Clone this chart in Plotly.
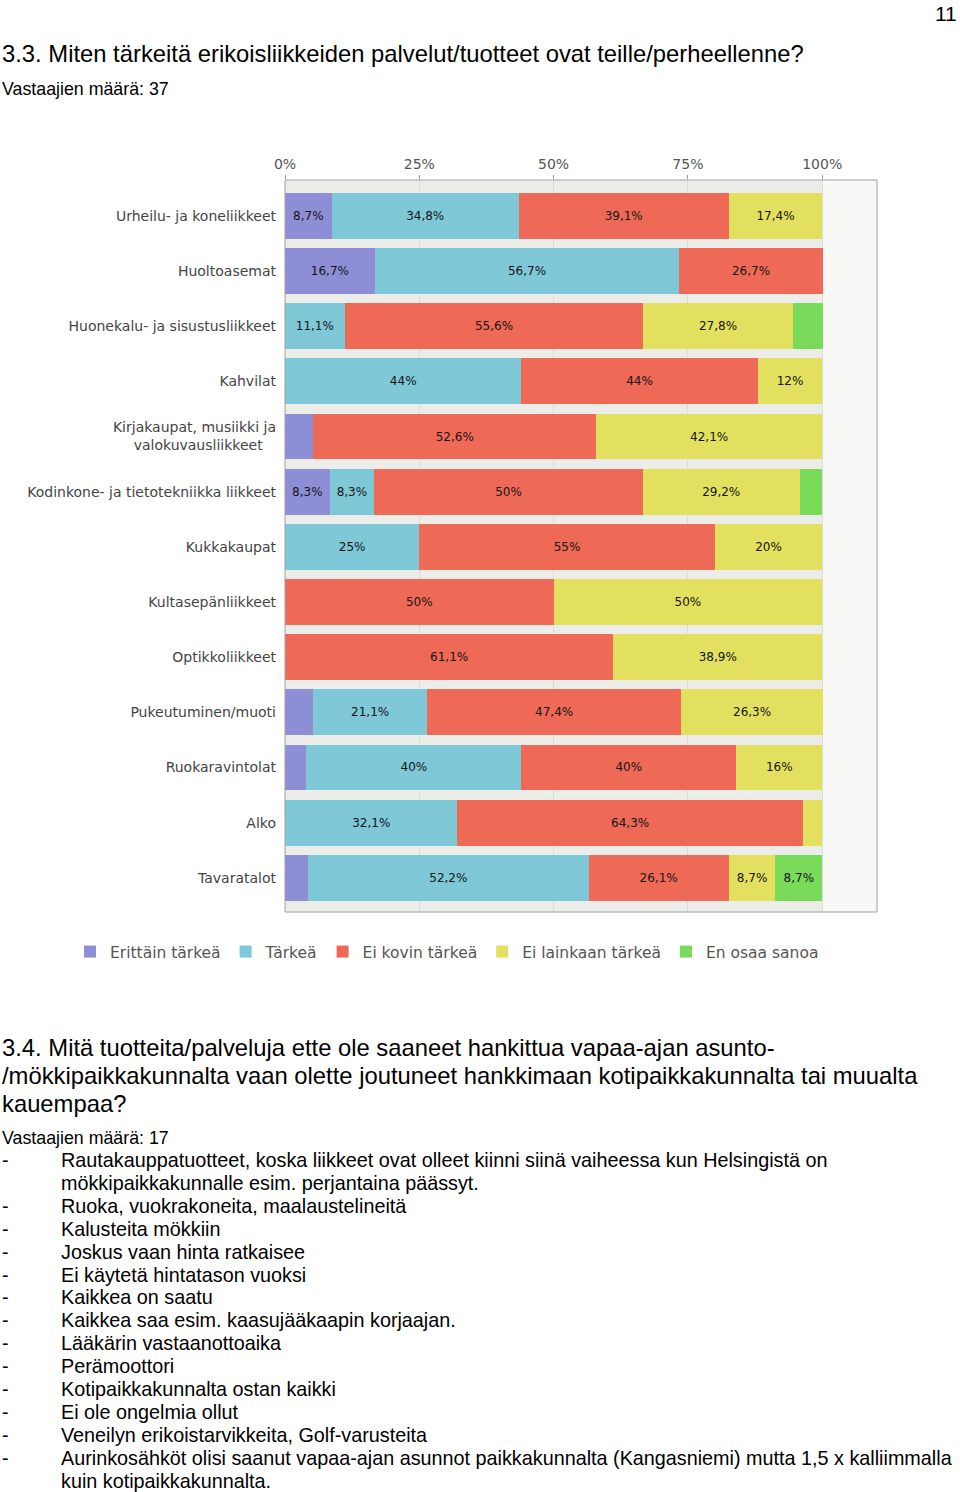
import plotly.graph_objects as go

# ---------------- data ----------------
categories = [
    "Urheilu- ja koneliikkeet",
    "Huoltoasemat",
    "Huonekalu- ja sisustusliikkeet",
    "Kahvilat",
    "Kirjakaupat, musiikki ja<br>valokuvausliikkeet\u00a0\u00a0\u00a0",
    "Kodinkone- ja tietotekniikka liikkeet",
    "Kukkakaupat",
    "Kultasepänliikkeet",
    "Optikkoliikkeet",
    "Pukeutuminen/muoti",
    "Ruokaravintolat",
    "Alko",
    "Tavaratalot",
]
series_names = ["Erittäin tärkeä", "Tärkeä", "Ei kovin tärkeä", "Ei lainkaan tärkeä", "En osaa sanoa"]
erittain = [8.7, 16.7, 0, 0, 5.3, 8.3, 0, 0, 0, 5.3, 4.0, 0, 4.3]
tarkea = [34.8, 56.7, 11.1, 44, 0, 8.3, 25, 0, 0, 21.1, 40, 32.1, 52.2]
ei_kovin = [39.1, 26.7, 55.6, 44, 52.6, 50, 55, 50, 61.1, 47.4, 40, 64.3, 26.1]
ei_lainkaan = [17.4, 0, 27.8, 12, 42.1, 29.2, 20, 50, 38.9, 26.3, 16, 3.6, 8.7]
en_osaa = [0, 0, 5.6, 0, 0, 4.2, 0, 0, 0, 0, 0, 0, 8.7]
x_ticks = [0, 25, 50, 75, 100]
x_tick_labels = ["0%", "25%", "50%", "75%", "100%"]

series_values = [erittain, tarkea, ei_kovin, ei_lainkaan, en_osaa]
colors = ["#8e8ed6", "#7fc8d8", "#ee6a56", "#e2e05e", "#7ada5a"]

# page text
title1 = "3.3. Miten tärkeitä erikoisliikkeiden palvelut/tuotteet ovat teille/perheellenne?"
count1 = "Vastaajien määrä: 37"
page_no = "11"
title2_lines = [
    "3.4. Mitä tuotteita/palveluja ette ole saaneet hankittua vapaa-ajan asunto-",
    "/mökkipaikkakunnalta vaan olette joutuneet hankkimaan kotipaikkakunnalta tai muualta",
    "kauempaa?",
]
count2 = "Vastaajien määrä: 17"
answers = [
    ["Rautakauppatuotteet, koska liikkeet ovat olleet kiinni siinä vaiheessa kun Helsingistä on",
     "mökkipaikkakunnalle esim. perjantaina päässyt."],
    ["Ruoka, vuokrakoneita, maalaustelineitä"],
    ["Kalusteita mökkiin"],
    ["Joskus vaan hinta ratkaisee"],
    ["Ei käytetä hintatason vuoksi"],
    ["Kaikkea on saatu"],
    ["Kaikkea saa esim. kaasujääkaapin korjaajan."],
    ["Lääkärin vastaanottoaika"],
    ["Perämoottori"],
    ["Kotipaikkakunnalta ostan kaikki"],
    ["Ei ole ongelmia ollut"],
    ["Veneilyn erikoistarvikkeita, Golf-varusteita"],
    ["Aurinkosähköt olisi saanut vapaa-ajan asunnot paikkakunnalta (Kangasniemi) mutta 1,5 x kalliimmalla",
     "kuin kotipaikkakunnalta."],
]


def fmt(v):
    if v < 8:
        return ""
    s = ("%.1f" % v).rstrip("0").rstrip(".")
    return s.replace(".", ",") + "%"


# ---------------- figure ----------------
W, H = 960, 1492
L, R, T, B = 285, 83, 180, 580
PW, PH = W - L - R, H - T - B


def px(x):
    return (x - L) / PW


def py(y):
    return (H - B - y) / PH


fig = go.Figure()
for name, vals, col in zip(series_names, series_values, colors):
    fig.add_trace(go.Bar(
        y=categories, x=vals, name=name, orientation="h",
        marker=dict(color=col, line=dict(width=0)),
        text=[fmt(v) for v in vals], textposition="inside", insidetextanchor="middle",
        textfont=dict(family="DejaVu Sans", size=12, color="#151515"),
        constraintext="none", cliponaxis=False, width=0.83,
        hoverinfo="skip",
    ))

# light band 0..100 %
fig.add_shape(type="rect", xref="x", yref="paper", x0=0, x1=100, y0=0, y1=1,
              fillcolor="#ecede8", line=dict(width=0), layer="below")
# frame
fig.add_shape(type="rect", xref="paper", yref="paper", x0=0, x1=1, y0=0, y1=1,
              line=dict(color="#a0a0a0", width=1), fillcolor="rgba(0,0,0,0)")

fig.update_layout(
    width=W, height=H,
    margin=dict(l=L, r=R, t=T, b=B, pad=0),
    barmode="stack", bargap=0.17,
    paper_bgcolor="white", plot_bgcolor="#f8f9f6",
    font=dict(family="DejaVu Sans", color="#333333"),
    showlegend=True,
    legend=dict(orientation="h", x=px(70), xanchor="left", y=py(952), yanchor="middle",
                font=dict(family="DejaVu Sans", size=15.5, color="#555555"),
                itemwidth=30, traceorder="normal", bgcolor="rgba(0,0,0,0)"),
    uniformtext=dict(mode=False),
)
fig.update_xaxes(side="top", range=[0, 110.2], tickvals=x_ticks, ticktext=x_tick_labels,
                 showgrid=True, gridcolor="#dcdcd6", gridwidth=1, zeroline=False,
                 ticks="outside", ticklen=4, tickcolor="#999999",
                 tickfont=dict(family="DejaVu Sans", size=14, color="#555555"),
                 fixedrange=True)
fig.update_yaxes(autorange=False, range=[12.62, -0.65], type="category",
                 showgrid=False, zeroline=False, ticks="", ticklabelstandoff=8,
                 tickfont=dict(family="DejaVu Sans", size=14, color="#444444"))

ann = []
TXT = "Liberation Sans, Arial"


def add_text(x, y, text, size, color="#000000"):
    ann.append(dict(xref="paper", yref="paper", x=px(x), y=py(y), text=text,
                    showarrow=False, xanchor="left", yanchor="middle", align="left",
                    font=dict(family=TXT, size=size, color=color)))


ann.append(dict(xref="paper", yref="paper", x=px(959), y=py(13), text=page_no, showarrow=False,
                xanchor="right", yanchor="middle",
                font=dict(family=TXT, size=21, color="#000000")))
add_text(0, 53, title1, 23.8)
add_text(0, 89, count1, 17.8)
for i, line in enumerate(title2_lines):
    add_text(0, 1047 + 28 * i, line, 23.8)
add_text(0, 1138, count2, 17.8)
y = 1160
for item in answers:
    add_text(0, y, "-", 19.8)
    for j, line in enumerate(item):
        add_text(59, y, line, 19.8)
        y += 22.9
fig.update_layout(annotations=ann)

fig.write_html("out.html", config={"displayModeBar": False},
               post_script="document.body.style.margin='0';")
